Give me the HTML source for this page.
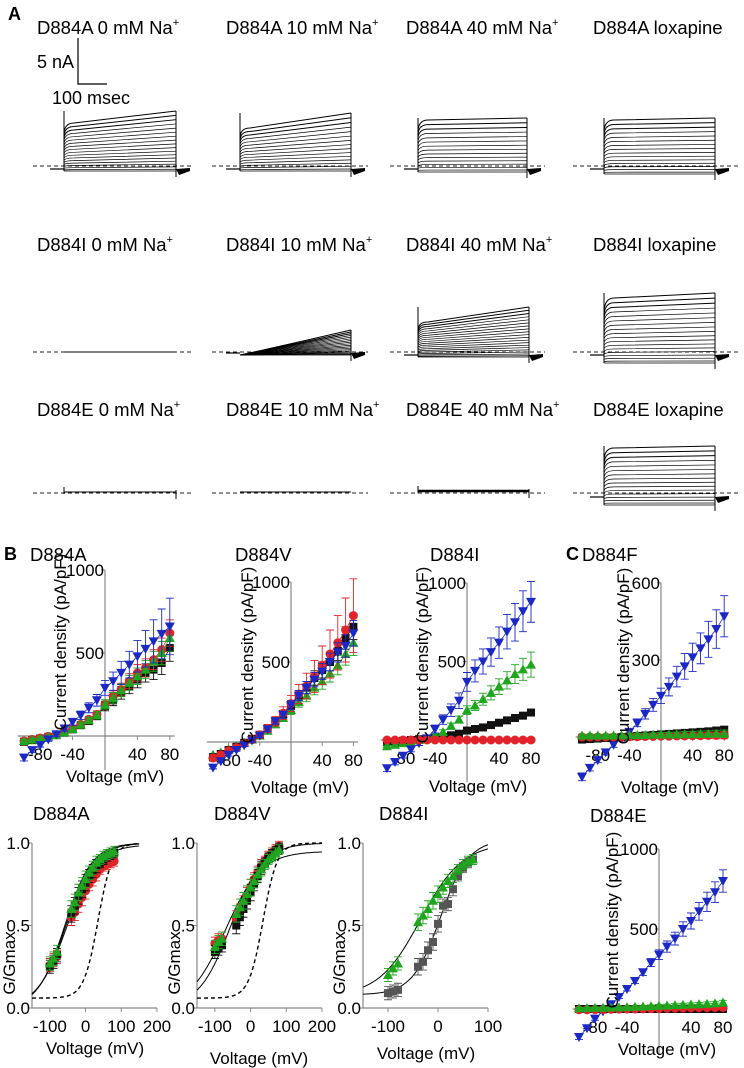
<!DOCTYPE html>
<html><head><meta charset="utf-8">
<style>
html,body{margin:0;padding:0;background:#fff;}
svg{display:block;font-family:"Liberation Sans",Arial,sans-serif;}
</style></head>
<body>
<svg id="fig" width="744" height="1068" viewBox="0 0 744 1068" xmlns="http://www.w3.org/2000/svg">
<rect width="744" height="1068" fill="#fff"/>
</svg>
<script>
// ---------- DATA ----------
const volts = [-100,-90,-80,-70,-60,-50,-40,-30,-20,-10,0,10,20,30,40,50,60,70,80];
const errMed = [8,8,8,8,8,10,12,15,18,22,28,32,38,45,50,55,60,70,80];
const errSmall = [5,5,5,5,5,5,5,6,6,7,8,8,9,10,10,11,12,13,14];

const aBlue  = [-130,-85,-55,-20,10,45,85,125,170,215,290,330,380,430,480,525,570,615,660];
const aBlack = [-35,-25,-15,-5,5,20,40,65,90,120,180,215,260,300,340,380,400,440,530];
const aRed   = [-30,-20,-12,-2,8,25,45,70,100,130,190,240,280,330,380,410,460,520,620];
const aGreen = [-30,-22,-14,-4,6,22,42,68,95,125,190,230,275,320,360,400,450,500,590];
const aBlueErr = [20,15,12,12,12,15,20,25,30,35,45,55,70,80,95,110,130,150,170];

const vBlue  = [-160,-120,-80,-50,-20,10,40,80,130,170,230,290,340,390,440,500,560,600,680];
const vRed   = [-100,-80,-55,-35,-10,15,45,85,130,180,240,300,350,410,480,550,620,700,790];
const vBlack = [-95,-75,-50,-30,-5,20,45,85,130,175,230,290,340,400,450,500,570,650,720];
const vGreen = [-80,-65,-45,-25,-5,15,40,70,110,150,200,250,290,340,380,430,480,550,620];
const vRedErr = [20,15,12,12,12,15,20,25,30,40,50,60,80,100,120,150,170,200,230];

const iBlue  = [-180,-140,-100,-60,-20,10,70,130,190,250,370,440,500,560,620,690,750,820,880];
const iGreen = [-40,-30,-20,-10,0,10,30,50,90,130,190,220,260,300,340,380,420,450,480];
const iBlack = [-15,-10,-5,0,5,8,12,20,30,40,60,70,80,95,110,125,140,155,175];
const iRed   = [0,0,0,0,0,0,0,0,0,0,0,0,0,0,0,0,0,0,0];
const iBlueErr = [20,18,15,15,15,20,25,30,40,50,60,70,80,90,100,110,120,130,130];

const fBlue  = [-155,-120,-90,-60,-30,-5,20,55,90,125,160,195,235,275,310,345,380,420,470];
const fBlack = [-10,-8,-6,-4,-2,0,2,4,6,8,10,12,14,16,18,20,22,25,28];
const fRed   = [0,0,0,0,0,0,1,1,2,2,3,3,4,4,5,5,6,6,7];
const fGreen = [6,6,6,6,6,7,7,8,8,9,9,10,10,11,11,12,12,13,13];
const fBlueErr = [15,12,10,10,10,10,12,15,20,25,30,35,40,50,55,60,70,75,80];

const eBlue  = [-175,-120,-60,-15,30,75,125,175,230,290,340,390,440,500,550,610,670,730,800];
const eGreen = [5,6,7,8,9,10,12,14,16,18,20,22,24,26,28,30,32,35,40];
const eRed   = [-5,-5,-4,-3,-2,-1,0,0,1,2,3,4,5,6,7,8,8,9,10];
const eBlack = [0,0,0,0,0,0,0,0,0,0,0,0,0,0,0,0,0,0,0];
const eBlueErr = [15,12,10,10,10,10,12,15,20,25,30,35,40,45,50,55,60,65,70];

const gVolts = [-100,-90,-80,-40,-30,-20,-10,0,10,20,30,40,50,60,70,80];
const gaBlack = [0.25,0.28,0.32,0.57,0.62,0.68,0.72,0.76,0.80,0.83,0.86,0.88,0.90,0.92,0.93,0.94];
const gaRed   = [0.26,0.29,0.31,0.55,0.58,0.63,0.67,0.71,0.75,0.78,0.81,0.84,0.86,0.87,0.88,0.89];
const gaGreen = [0.27,0.30,0.34,0.60,0.64,0.70,0.74,0.78,0.82,0.85,0.88,0.90,0.92,0.93,0.94,0.95];
const gvBlack = [0.34,0.36,0.38,0.50,0.55,0.60,0.65,0.70,0.75,0.80,0.85,0.88,0.91,0.93,0.95,0.97];
const gvRed   = [0.39,0.41,0.42,0.54,0.58,0.63,0.68,0.73,0.78,0.82,0.86,0.89,0.92,0.94,0.96,0.98];
const gvGreen = [0.37,0.40,0.42,0.57,0.61,0.65,0.69,0.73,0.77,0.81,0.84,0.87,0.90,0.92,0.94,0.96];
const giVolts = [-100,-90,-80,-40,-30,-20,-10,0,10,20,30,40,50,60,70];
const giGreen = [0.20,0.24,0.27,0.52,0.56,0.60,0.65,0.69,0.73,0.77,0.80,0.84,0.87,0.89,0.90];
const giGray  = [0.09,0.10,0.11,0.25,0.28,0.35,0.40,0.51,0.62,0.63,0.72,0.80,0.85,0.88,0.90];
const gErr = [0.04,0.04,0.04,0.05,0.05,0.05,0.05,0.05,0.04,0.04,0.04,0.03,0.03,0.03,0.03,0.03];

// Boltzmann fit params: [bottom, top, V1/2, slope]
const fitA = [[0,1.0,-55,40],[0,0.99,-52,42],[0,1.0,-58,38]];
const fitV = [[0,0.95,-70,50],[0,1.0,-55,45]];
const fitI = [[0.07,1.0,-35,42],[0.08,1.02,5,28]];
const fitDash = [0.06,1.0,35,20];

// ---------- HELPERS ----------
const NS = "http://www.w3.org/2000/svg";
const svg = document.getElementById('fig');
function mk(tag, attrs, parent){
  const e = document.createElementNS(NS, tag);
  for (const k in attrs) e.setAttribute(k, attrs[k]);
  (parent||svg).appendChild(e);
  return e;
}
function txt(x,y,s,size,parent,anchor,weight,rot){
  const t = mk('text',{x:x,y:y,'font-size':size,'text-anchor':anchor||'start','font-weight':weight||'normal',fill:'#000'},parent);
  if(rot) t.setAttribute('transform','rotate(-90 '+x+' '+y+')');
  t.textContent = s;
  return t;
}
const COL = {black:'#111', red:'#e0242a', green:'#1fa51f', blue:'#1c28c4', gray:'#555'};
const FT = 18.5, FK = 17, FA = 17;

function marker(g, shape, cx, cy, color, s){
  let e;
  if(shape==='square') e = mk('rect',{x:cx-s/2,y:cy-s/2,width:s,height:s,fill:color},g);
  else if(shape==='circle') e = mk('circle',{cx:cx,cy:cy,r:s/2+0.5,fill:color},g);
  else if(shape==='up') e = mk('polygon',{points:`${cx},${cy-s/2-1} ${cx-s/2-1},${cy+s/2} ${cx+s/2+1},${cy+s/2}`,fill:color},g);
  else e = mk('polygon',{points:`${cx},${cy+s/2+1} ${cx-s/2-1},${cy-s/2} ${cx+s/2+1},${cy-s/2}`,fill:color},g);
  
  
}

function series(g, xs, ys, errs, X, Y, color, shape, s, withLine){
  if(withLine){
    const d = xs.map((v,i)=>(i?'L':'M')+X(v)+' '+Y(ys[i])).join(' ');
    const p = mk('path',{d:d,fill:'none',stroke:color,'stroke-width':0.8},g);
    
    
  }
  xs.forEach((v,i)=>{
    const x = X(v), y1 = Y(ys[i]+errs[i]), y2 = Y(ys[i]-errs[i]);
    const eb = mk('path',{d:`M${x} ${y1} V${y2} M${x-4} ${y1} H${x+4} M${x-4} ${y2} H${x+4}`,stroke:color,'stroke-width':0.9,fill:'none'},g);
    
    
  });
  xs.forEach((v,i)=>marker(g, shape, X(v), Y(ys[i]), color, s));
}

// ---------- PANEL LETTERS ----------
[['A',8,20],['B',4,560],['C',566,560]].forEach(([l,x,y])=>{
  const t = txt(x,y,l,18,svg,'start','bold');
  
  
});

// ---------- PANEL A: TRACES ----------
const gA = mk('g',{});


const colX = [37,226,406,593];
const rowTitles = [
  [['D884A 0 mM Na','+'],['D884A 10 mM Na','+'],['D884A 40 mM Na','+'],['D884A loxapine','']],
  [['D884I 0 mM Na','+'],['D884I 10 mM Na','+'],['D884I 40 mM Na','+'],['D884I loxapine','']],
  [['D884E 0 mM Na','+'],['D884E 10 mM Na','+'],['D884E 40 mM Na','+'],['D884E loxapine','']]
];
const rowY = [34,251,416];
rowTitles.forEach((row,ri)=>row.forEach((tt,ci)=>{
  const t = mk('text',{x:colX[ci],y:rowY[ri],'font-size':FT,fill:'#000'},gA);
  
  
  t.appendChild(document.createTextNode(tt[0]));
  if(tt[1]){const sp = mk('tspan',{'font-size':11,dy:-8},t); sp.textContent = tt[1];}
}));
// scale bar
const sb = mk('path',{d:'M78 38 V84 H107',stroke:'#000','stroke-width':1.2,fill:'none'},gA);


const sb1 = txt(37,68,'5 nA',18,gA);  
const sb2 = txt(52,104,'100 msec',18,gA);  

// dashed zero lines
[[166],[352],[493]].forEach(([y])=>{
  [[33,192],[212,368],[390,545],[573,740]].forEach(([a,b])=>{
    const d = mk('line',{x1:a,x2:b,y1:y,y2:y,stroke:'#222','stroke-width':0.9,'stroke-dasharray':'4,3'},gA);
    
    
  });
});

function family(x0,x1,hold,topL,topR,bottom,n,dense){
  const g = mk('g',{},gA);
  
  
  mk('line',{x1:x0-14,x2:x0,y1:hold,y2:hold,stroke:'#000','stroke-width':1.2},g);
  if(!dense) mk('line',{x1:x0,x2:x0,y1:Math.min(topL,topR),y2:bottom,stroke:'#000','stroke-width':1},g);
  mk('line',{x1:x1,x2:x1,y1:topR,y2:bottom+6,stroke:'#000','stroke-width':1},g);
  for(let i=0;i<n;i++){
    const f = i/(n-1);
    const f2 = Math.pow(f,1.25);
    const yl = bottom + (topL-bottom)*f2;
    const yr = bottom + (topR-bottom)*f2;
    let d;
    if(dense) d = `M${x0} ${bottom} Q${x0+25} ${yl+(yr-yl)*0.1} ${x1} ${yr}`;
    else {
      const ys = bottom + (yl-bottom)*0.8;
      d = `M${x0} ${ys} Q${x0+1} ${yl} ${x0+10} ${yl} Q${(x0+x1)/2} ${(yl*0.55+yr*0.45)} ${x1} ${yr}`;
    }
    mk('path',{d:d,fill:'none',stroke:'#000','stroke-width':i>n-4?1:0.7},g);
  }
  mk('polygon',{points:`${x1},${hold} ${x1+14},${hold-1} ${x1+14},${hold+2} ${x1+3},${hold+6}`,fill:'#000'},g);
}
function flat(x0,x1,y,spike,thick){
  const g = mk('g',{},gA);
  
  
  mk('line',{x1:x0,x2:x1,y1:y,y2:y,stroke:'#000','stroke-width':thick||1.1},g);
  if(spike){
    mk('line',{x1:x0,x2:x0,y1:y-5,y2:y+2,stroke:'#000','stroke-width':1},g);
    mk('line',{x1:x1,x2:x1,y1:y-2,y2:y+7,stroke:'#000','stroke-width':1},g);
  }
}
family(64,176,169,123,111,171,18,false);
family(240,351,169,128,113,171,16,false);
family(418,527,169,120,118,172,15,false);
family(604,715,169,120,118,174,16,false);
flat(64,176,352,false);
family(240,351,353,352,330,355,18,true);
family(418,529,355,322,307,357,20,false);
family(604,715,355,298,293,363,18,false);
flat(64,176,492,true);
flat(240,351,492,false);
flat(418,529,491,true,2.5);
family(604,715,497,448,446,505,16,false);

// ---------- IV PLOTS ----------
function ivPlot(o){
  const g = mk('g',{});
  
  
  const X = v => o.ox + v*o.sx;
  const Y = i => o.oy - i*o.sy;
  const tt = txt(o.tx,o.ty,o.title,FT,g);
  
  
  const xa = mk('line',{x1:X(-108),x2:X(86),y1:o.oy,y2:o.oy,stroke:'#888','stroke-width':1.2},g);
  
  
  const ya = mk('line',{x1:o.ox,x2:o.ox,y1:Y(o.yTicks[o.yTicks.length-1]),y2:o.axBottom,stroke:'#888','stroke-width':1.2},g);
  
  
  [-80,-40,40,80].forEach(v=>{
    mk('line',{x1:X(v),x2:X(v),y1:o.oy,y2:o.oy+4,stroke:'#888'},g);
    const t = txt(X(v),o.oy+24,String(v),FK,g,'middle');
    
    
  });
  o.yTicks.forEach(v=>{
    mk('line',{x1:o.ox-4,x2:o.ox,y1:Y(v),y2:Y(v),stroke:'#888'},g);
    const t = txt(o.ox-1,Y(v)+6,String(v),FK,g,'end');
    
    
  });
  o.series.forEach(s=>series(g, volts, s.y, s.e, X, Y, COL[s.c], s.m, 8, true));
  const xl = txt(o.xlx,o.xly,'Voltage (mV)',FA,g,'middle');
  
  
  const yl = txt(o.ylx,o.yly,'Current density (pA/pF)',FA,g,'middle','normal',true);
  
  
}
ivPlot({name:'iv-plot-d884a',title:'D884A',tx:30,ty:561,ox:105,oy:736,sx:0.81,sy:0.166,yTicks:[500,1000],axBottom:770,xlx:115,xly:782,ylx:66,yly:642,
  series:[{y:aBlack,e:errMed,c:'black',m:'square'},{y:aRed,e:errMed,c:'red',m:'circle'},{y:aGreen,e:errMed,c:'green',m:'up'},{y:aBlue,e:aBlueErr,c:'blue',m:'down'}]});
ivPlot({name:'iv-plot-d884v',title:'D884V',tx:235,ty:561,ox:291,oy:742,sx:0.78,sy:0.16,yTicks:[500,1000],axBottom:792,xlx:300,xly:793,ylx:253,yly:655,
  series:[{y:vGreen,e:errMed,c:'green',m:'up'},{y:vBlack,e:errMed,c:'black',m:'square'},{y:vRed,e:vRedErr,c:'red',m:'circle'},{y:vBlue,e:errMed,c:'blue',m:'down'}]});
ivPlot({name:'iv-plot-d884i',title:'D884I',tx:430,ty:561,ox:467,oy:740,sx:0.8,sy:0.157,yTicks:[500,1000],axBottom:782,xlx:478,xly:792,ylx:428,yly:655,
  series:[{y:iBlack,e:errSmall,c:'black',m:'square'},{y:iGreen,e:errMed,c:'green',m:'up'},{y:iBlue,e:iBlueErr,c:'blue',m:'down'},{y:iRed,e:errSmall,c:'red',m:'circle'}]});
ivPlot({name:'iv-plot-d884f',title:'D884F',tx:582,ty:561,ox:661,oy:737,sx:0.79,sy:0.257,yTicks:[300,600],axBottom:790,xlx:670,xly:793,ylx:629,yly:656,
  series:[{y:fBlue,e:fBlueErr,c:'blue',m:'down'},{y:fBlack,e:errSmall,c:'black',m:'square'},{y:fRed,e:errSmall,c:'red',m:'circle'},{y:fGreen,e:errSmall,c:'green',m:'up'}]});
ivPlot({name:'iv-plot-d884e',title:'D884E',tx:590,ty:822,ox:659,oy:1009,sx:0.8,sy:0.16,yTicks:[500,1000],axBottom:1055,xlx:667,xly:1055,ylx:618,yly:920,
  series:[{y:eBlue,e:eBlueErr,c:'blue',m:'down'},{y:eBlack,e:errSmall,c:'black',m:'square'},{y:eRed,e:errSmall,c:'red',m:'circle'},{y:eGreen,e:errSmall,c:'green',m:'up'}]});

// ---------- G/Gmax PLOTS ----------
function boltz(p,v){return p[0] + (p[1]-p[0])/(1+Math.exp((p[2]-v)/p[3]));}
function gPlot(o){
  const g = mk('g',{});
  
  
  const X = v => o.x0 + (v-o.vmin)*o.sx;
  const Y = r => o.y0 - r*o.sy;
  const tt = txt(o.tx,820,o.title,FT,g);
  
  
  const ax = mk('path',{d:`M${X(o.vmin)} ${Y(1)} V${Y(0)} H${X(o.vmax)}`,stroke:'#888','stroke-width':1.2,fill:'none'},g);
  
  
  o.xTicks.forEach(v=>{
    mk('line',{x1:X(v),x2:X(v),y1:Y(0),y2:Y(0)+4,stroke:'#888'},g);
    const t = txt(X(v),Y(0)+24,String(v),FK,g,'middle');
    
    
  });
  [0,0.5,1].forEach(v=>{
    mk('line',{x1:X(o.vmin)-4,x2:X(o.vmin),y1:Y(v),y2:Y(v),stroke:'#888'},g);
    const t = txt(X(o.vmin)-2,Y(v)+6,v.toFixed(1),FK,g,'end');
    
    
  });
  const curve = (p,dash)=>{
    let d='';
    for(let v=o.vmin; v<=o.cmax; v+=2) d += (d?'L':'M')+X(v).toFixed(1)+' '+Y(boltz(p,v)).toFixed(1);
    const c = mk('path',{d:d,fill:'none',stroke:'#000','stroke-width':dash?1.4:1,'stroke-dasharray':dash?'4,3':'none'},g);
    
    
  };
  o.fits.forEach(p=>curve(p,false));
  if(o.dash) curve(fitDash,true);
  o.series.forEach(s=>series(g, s.x, s.y, gErr, X, Y, COL[s.c], s.m, 8, false));
  const xl = txt(o.xlx,o.xly,'Voltage (mV)',FA,g,'middle');
  
  
  const yl = txt(o.ylx,963,'G/Gmax',FA,g,'middle','normal',true);
  
  
}
gPlot({name:'gv-plot-d884a',title:'D884A',tx:33,x0:32,vmin:-150,vmax:200,cmax:150,sx:0.357,y0:1008,sy:165,xTicks:[-100,0,100,200],fits:fitA,dash:true,xlx:95,xly:1054,ylx:15,
  series:[{x:gVolts,y:gaRed,c:'red',m:'circle'},{x:gVolts,y:gaBlack,c:'black',m:'square'},{x:gVolts,y:gaGreen,c:'green',m:'up'}]});
gPlot({name:'gv-plot-d884v',title:'D884V',tx:214,x0:197,vmin:-150,vmax:200,cmax:200,sx:0.357,y0:1008,sy:165,xTicks:[-100,0,100,200],fits:fitV,dash:true,xlx:259,xly:1064,ylx:180,
  series:[{x:gVolts,y:gvRed,c:'red',m:'circle'},{x:gVolts,y:gvBlack,c:'black',m:'square'},{x:gVolts,y:gvGreen,c:'green',m:'up'}]});
gPlot({name:'gv-plot-d884i',title:'D884I',tx:379,x0:363,vmin:-150,vmax:100,cmax:100,sx:0.5,y0:1008,sy:165,xTicks:[-100,0,100],fits:fitI,dash:false,xlx:426,xly:1059,ylx:345,
  series:[{x:giVolts,y:giGray,c:'gray',m:'square'},{x:giVolts,y:giGreen,c:'green',m:'up'}]});
</script>
</body></html>
